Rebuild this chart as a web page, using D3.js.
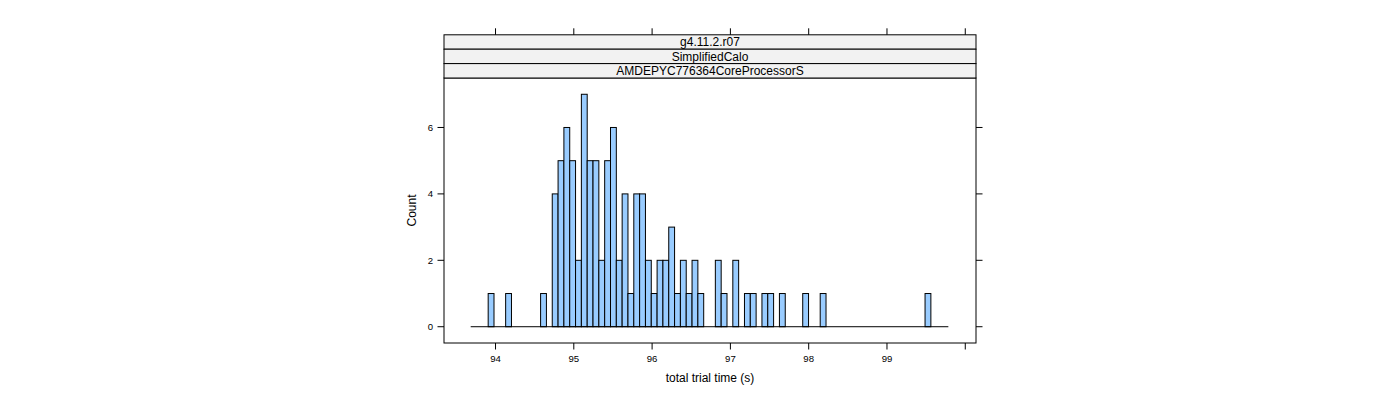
<!DOCTYPE html>
<html>
<head>
<meta charset="utf-8">
<script src="https://cdn.jsdelivr.net/npm/d3@7"></script>
<style>
  html, body { margin: 0; padding: 0; background: #fff; }
  svg { display: block; font-family: "Liberation Sans", Arial, sans-serif; }
</style>
</head>
<body>
<svg id="chart" width="1400" height="400"></svg>
<script>
// ---- data ----
const stripLabels = ["g4.11.2.r07", "SimplifiedCalo", "AMDEPYC776364CoreProcessorS"];
const xLabel = "total trial time (s)";
const yLabel = "Count";
const xTicks = [94, 95, 96, 97, 98, 99, 100];
const xTickLabels = ["94", "95", "96", "97", "98", "99", ""];
const yTicks = [0, 2, 4, 6];
const breakStart = 93.683;   // first histogram break
const binWidth = 0.0744;     // width of each bin (s)
const counts = [
  0, 0, 0, 1, 0, 0, 1, 0, 0, 0,
  0, 0, 1, 0, 4, 5, 6, 5, 2, 7,
  5, 5, 2, 5, 6, 2, 4, 1, 4, 4,
  2, 1, 2, 2, 3, 1, 2, 1, 2, 1,
  0, 0, 2, 1, 0, 2, 0, 1, 1, 0,
  1, 1, 0, 1, 0, 0, 0, 1, 0, 0,
  1, 0, 0, 0, 0, 0, 0, 0, 0, 0,
  0, 0, 0, 0, 0, 0, 0, 0, 1, 0,
  0, 0
];

// ---- layout ----
const panel = { left: 444, right: 976, top: 78, bottom: 343 };
const stripH = 14.4;
const svg = d3.select("#chart");

const x = d3.scaleLinear().domain([93.342, 100.137]).range([panel.left, panel.right]);
const y = d3.scaleLinear().domain([-0.49, 7.49]).range([panel.bottom, panel.top]);

const bins = counts.map((c, i) => ({ x0: breakStart + i * binWidth, x1: breakStart + (i + 1) * binWidth, c }));

// bars
svg.append("g").selectAll("rect").data(bins).join("rect")
  .attr("x", d => x(d.x0))
  .attr("width", d => x(d.x1) - x(d.x0))
  .attr("y", d => y(d.c))
  .attr("height", d => y(0) - y(d.c))
  .attr("fill", "#99CCFF")
  .attr("stroke", "#000")
  .attr("stroke-width", 1);

// baseline (zero-height bins)
svg.append("line")
  .attr("x1", x(bins[0].x0)).attr("x2", x(bins[bins.length - 1].x1))
  .attr("y1", y(0)).attr("y2", y(0))
  .attr("stroke", "#000").attr("stroke-width", 1);

// panel border
svg.append("rect")
  .attr("x", panel.left).attr("y", panel.top)
  .attr("width", panel.right - panel.left).attr("height", panel.bottom - panel.top)
  .attr("fill", "none").attr("stroke", "#000").attr("stroke-width", 1);

// strips
const stripTop = panel.top - stripH * stripLabels.length;
stripLabels.forEach((lab, i) => {
  const sy = stripTop + i * stripH;
  svg.append("rect")
    .attr("x", panel.left).attr("y", sy)
    .attr("width", panel.right - panel.left).attr("height", stripH)
    .attr("fill", "#F2F2F2").attr("stroke", "#000").attr("stroke-width", 1);
  svg.append("text")
    .attr("x", (panel.left + panel.right) / 2).attr("y", sy + stripH / 2 + 4.3)
    .attr("text-anchor", "middle").attr("font-size", 12).attr("fill", "#000")
    .text(lab);
});

// axes
const tickLen = 6.5;
const axisG = svg.append("g").attr("stroke", "#000").attr("stroke-width", 1);
xTicks.forEach(t => {
  const px = x(t);
  axisG.append("line").attr("x1", px).attr("x2", px).attr("y1", panel.bottom).attr("y2", panel.bottom + tickLen);
  axisG.append("line").attr("x1", px).attr("x2", px).attr("y1", stripTop).attr("y2", stripTop - tickLen);
});
yTicks.forEach(t => {
  const py = y(t);
  axisG.append("line").attr("x1", panel.left).attr("x2", panel.left - tickLen).attr("y1", py).attr("y2", py);
  axisG.append("line").attr("x1", panel.right).attr("x2", panel.right + tickLen).attr("y1", py).attr("y2", py);
});

svg.append("g").selectAll("text").data(xTicks).join("text")
  .attr("x", d => x(d)).attr("y", panel.bottom + 18.5)
  .attr("text-anchor", "middle").attr("font-size", 9.6).attr("fill", "#000")
  .text((d, i) => xTickLabels[i]);

svg.append("g").selectAll("text").data(yTicks).join("text")
  .attr("x", panel.left - 11).attr("y", d => y(d) + 3.4)
  .attr("text-anchor", "end").attr("font-size", 9.6).attr("fill", "#000")
  .text(d => d);

svg.append("text")
  .attr("x", (panel.left + panel.right) / 2).attr("y", 382)
  .attr("text-anchor", "middle").attr("font-size", 12).attr("fill", "#000")
  .text(xLabel);

svg.append("text")
  .attr("transform", `translate(416, ${(panel.top + panel.bottom) / 2}) rotate(-90)`)
  .attr("text-anchor", "middle").attr("font-size", 12).attr("fill", "#000")
  .text(yLabel);
</script>
</body>
</html>
